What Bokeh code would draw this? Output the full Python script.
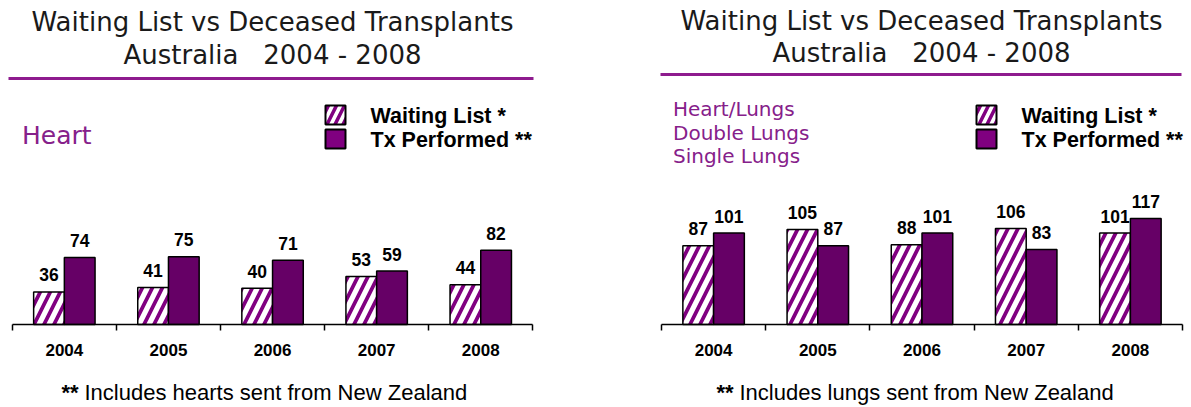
import numpy as np
from bokeh.plotting import figure
from bokeh.models import ColumnDataSource, Range1d, LinearAxis, FixedTicker
from bokeh.layouts import row
from bokeh.transform import dodge
from bokeh.core.properties import value
from bokeh.embed import file_html
from bokeh.resources import INLINE

# ---------------- data ----------------
years = ["2004", "2005", "2006", "2007", "2008"]
heart_waiting = [36, 41, 40, 53, 44]
heart_tx = [74, 75, 71, 59, 82]
lung_waiting = [87, 105, 88, 106, 101]
lung_tx = [101, 87, 101, 83, 117]

title_line1 = "Waiting List vs Deceased Transplants"
title_line2 = "Australia\u00a0\u00a0\u00a02004 - 2008"
legend_labels = ["Waiting List *", "Tx Performed **"]
heart_organs = ["Heart"]
lung_organs = ["Heart/Lungs", "Double Lungs", "Single Lungs"]
heart_note = "Includes hearts sent from New Zealand"
lung_note = "Includes lungs sent from New Zealand"

# ---------------- layout constants (image pixels) ----------------
PPU = 0.905      # pixels per unit
BASE = 324       # baseline y in image
TOP, BOTTOM = 0, 407
H = BOTTOM - TOP

PURPLE = "#800080"
DARK = "#660066"
ORG_COLOR = "#86208A"
LINE_COLOR = "#8E1B8E"
BOLD = value("Liberation Sans")


def make_panel(fig_l, fig_r, tick0, step, waiting, tx, organs, organ_cfg,
               line_y, line_x0, line_x1, title_cx, title_ys, legend_box_x,
               legend_text_x, note, note_x):
    X = lambda px: (px - tick0) / step
    Y = lambda py: (BASE - py) / PPU

    p = figure(width=fig_r - fig_l, height=H, output_backend="svg",
               toolbar_location=None, x_axis_location=None, y_axis_location=None,
               x_range=Range1d(X(fig_l), X(fig_r)),
               y_range=Range1d(Y(BOTTOM), Y(TOP)),
               min_border=0, min_border_left=0, min_border_right=0,
               min_border_top=0, min_border_bottom=0)
    p.outline_line_color = None
    p.grid.visible = False
    p.background_fill_color = "white"
    p.border_fill_color = "white"

    src = ColumnDataSource(dict(
        x=np.arange(len(years)) + 0.5,
        waiting=waiting, tx=tx,
        wl=[str(v) for v in waiting], tl=[str(v) for v in tx]))

    bw = 0.295
    p.vbar(x=dodge("x", -bw / 2), top="waiting", bottom=0, width=bw, source=src,
           fill_color="white", hatch_pattern="/", hatch_color=PURPLE,
           hatch_weight=3.8, hatch_scale=20, line_color="black", line_width=1.5)
    p.vbar(x=dodge("x", bw / 2), top="tx", bottom=0, width=bw, source=src,
           fill_color=DARK, line_color="black", line_width=1.5)

    for col, lab, off in (("waiting", "wl", -bw / 2), ("tx", "tl", bw / 2)):
        p.text(x=dodge("x", off), y=col, text=lab, source=src,
               text_align="center", text_baseline="middle", y_offset=-17,
               text_font=BOLD, text_font_style="bold", text_font_size="17.5px",
               text_color="black")

    # axis with ticks at category boundaries
    ax = LinearAxis(fixed_location=0, bounds=(0, len(years)),
                    ticker=FixedTicker(ticks=list(range(len(years) + 1))),
                    major_tick_out=6, major_tick_in=0,
                    minor_tick_out=0, minor_tick_in=0,
                    axis_line_width=1.5, axis_line_color="black",
                    major_tick_line_width=1.5, major_tick_line_color="black",
                    major_label_text_font_size="0px",
                    major_label_text_color=None)
    p.add_layout(ax, "below")
    centers = [i + 0.5 for i in range(len(years))]
    ax2 = LinearAxis(fixed_location=0,
                     ticker=FixedTicker(ticks=centers),
                     major_label_overrides={c: y for c, y in zip(centers, years)},
                     axis_line_color=None, major_tick_line_color=None,
                     minor_tick_line_color=None, major_tick_out=0, major_tick_in=0,
                     major_label_standoff=19,
                     major_label_text_font="Liberation Sans",
                     major_label_text_font_style="bold",
                     major_label_text_font_size="17px",
                     major_label_text_color="black")
    p.add_layout(ax2, "below")

    # titles
    p.text(x=[X(title_cx)] * 2, y=[Y(v) for v in title_ys],
           text=[title_line1, title_line2],
           text_align="center", text_baseline="middle",
           text_font=value("DejaVu Sans"), text_font_size="26px", text_color="#1a1a1a")
    p.segment(x0=[X(line_x0)], y0=[Y(line_y)], x1=[X(line_x1)], y1=[Y(line_y)],
              line_color=LINE_COLOR, line_width=3)

    # organ labels
    ox, oys, osize = organ_cfg
    p.text(x=[X(ox)] * len(organs), y=[Y(v) for v in oys], text=organs,
           text_align="left", text_baseline="middle",
           text_font=value("DejaVu Sans"), text_font_size=osize, text_color=ORG_COLOR)

    # legend
    bwid = 20 / step
    bhgt = 19 / PPU
    p.rect(x=[X(legend_box_x)], y=[Y(114.5)], width=bwid, height=bhgt,
           fill_color="white", hatch_pattern="/", hatch_color=PURPLE,
           hatch_weight=3.5, hatch_scale=16, line_color="black", line_width=2)
    p.rect(x=[X(legend_box_x)], y=[Y(138.5)], width=bwid, height=bhgt,
           fill_color=PURPLE, line_color="black", line_width=2)
    p.text(x=[X(legend_text_x)] * 2, y=[Y(115), Y(139)], text=legend_labels,
           text_align="left", text_baseline="middle",
           text_font=BOLD, text_font_style="bold", text_font_size="21.5px",
           text_color="black")

    # footnote
    p.text(x=[X(note_x)], y=[Y(392)], text=["**"], text_align="left",
           text_baseline="middle", text_font=BOLD, text_font_style="bold",
           text_font_size="22px", text_color="black")
    p.text(x=[X(note_x)], y=[Y(392)], text=[note], x_offset=23, text_align="left",
           text_baseline="middle", text_font=BOLD,
           text_font_size="22px", text_color="black")
    return p


p1 = make_panel(0, 596, 11.8, 104.1, heart_waiting, heart_tx, heart_organs,
                (21.5, [135], "25px"), 78, 8, 533, 272, (21, 54), 335, 370,
                heart_note, 61)
p2 = make_panel(596, 1191, 661, 104.2, lung_waiting, lung_tx, lung_organs,
                (672.5, [108, 132, 155.5], "20px"), 74, 660, 1181, 921, (20, 52),
                986, 1021, lung_note, 716)

layout = row(p1, p2)
open("out.html", "w").write(file_html(layout, INLINE))
